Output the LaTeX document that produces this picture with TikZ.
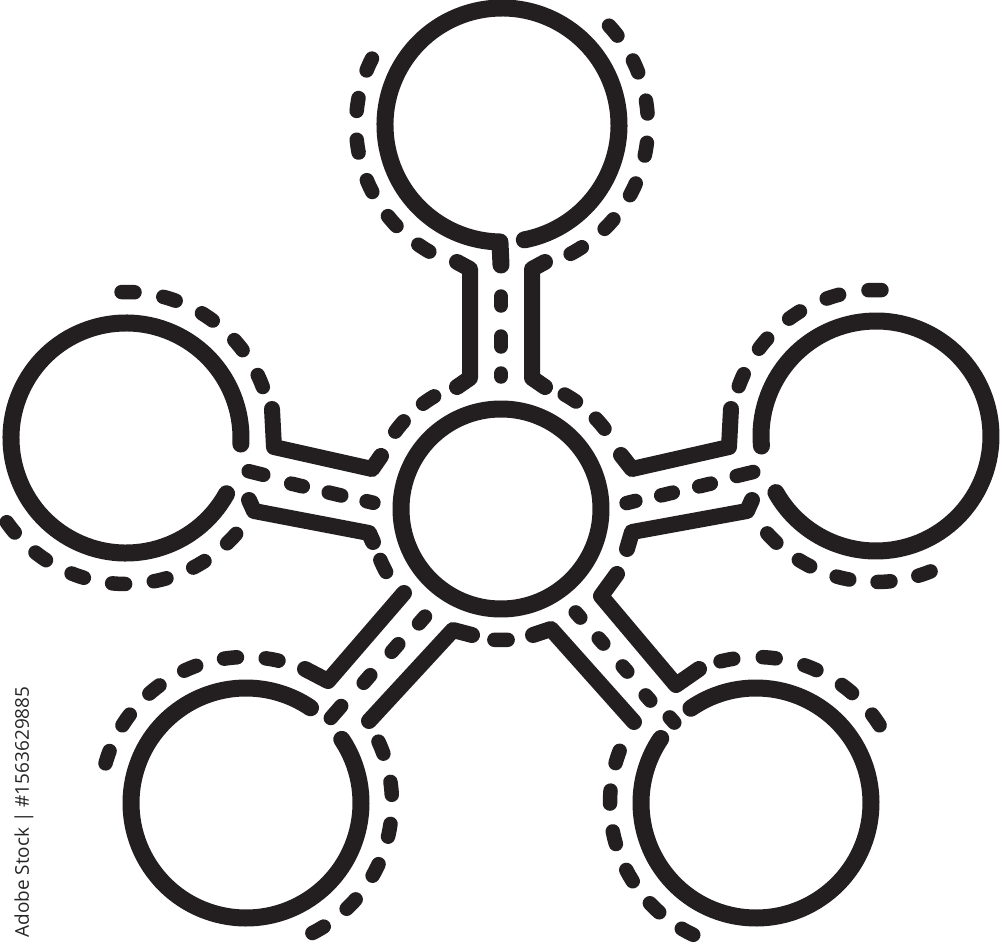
\documentclass[tikz,border=0pt]{standalone}
\usepackage{fontspec}
\newfontfamily\wmfont{Open Sans}
\definecolor{ink}{RGB}{35,31,32}
\tikzset{
  ringline/.style={draw=ink, line width=1.7mm, line cap=round, line join=round},
  stemline/.style={draw=ink, line width=1.6mm, line cap=round, line join=round},
  dsh/.style={draw=ink, line width=1.45mm, line cap=round},
}
% dashed ring: cx, cy, r, first dash angle, last dash angle, number of dashes
\newcommand\dring[6]{%
  \foreach \k in {1,...,#6}{%
    \pgfmathsetmacro\mc{#4+(\k-1)*(#5-#4)/(#6-1)}%
    \pgfmathsetmacro\dl{57.2958*6.5/#3}%
    \draw[dsh] (#1,#2) ++(\mc-\dl:#3) arc[start angle=\mc-\dl, end angle=\mc+\dl, radius=#3];
  }%
}
\newcommand\cdash[1]{%
  \draw[dsh] (cc) ++(#1-2.9:131) arc[start angle=#1-2.9, end angle=#1+2.9, radius=131];}
\begin{document}
\begin{tikzpicture}[x=0.1mm, y=-0.1mm]
\useasboundingbox (0,0) rectangle (1000,943);
\clip (0,0) rectangle (1000,943);
\fill[white] (0,0) rectangle (1000,943);

\coordinate (cc) at (501,509);
\coordinate (st) at (502,125);
\coordinate (sl) at (126,438);
\coordinate (sr) at (876,436);
\coordinate (sbl) at (246,803);
\coordinate (sbr) at (756,803);

% solid circles
\draw[ringline] (cc) circle[radius=100];
\draw[ringline] (st) ++(79:117) arc[start angle=79, end angle=-269, radius=117] -- (501,265);
\draw[ringline] (sl) ++(29:115) arc[start angle=29, end angle=363, radius=115];
\draw[ringline] (sr) ++(175:115) arc[start angle=175, end angle=510.5, radius=115];
\draw[ringline] (sbl) ++(-33.6:115) arc[start angle=-33.6, end angle=304.1, radius=115];
\draw[ringline] (sbr) ++(-124.5:115) arc[start angle=-124.5, end angle=214.1, radius=115];

% dashed rings around satellites
\dring{502}{125}{146}{204.5}{122.4}{6}
\dring{502}{125}{146}{-40.3}{59.4}{7}
\dring{126}{438}{146}{-89.2}{-23}{5}
\dring{126}{438}{146}{43.6}{142.2}{7}
\dring{876}{436}{146}{-90.4}{-157.5}{5}
\dring{876}{436}{146}{135.6}{70.6}{5}
\dring{246}{803}{146}{-79.7}{-161.7}{6}
\dring{246}{803}{146}{-22.3}{60.4}{6}
\dring{756}{803}{146}{-101.5}{-34.7}{5}
\dring{756}{803}{146}{198.4}{118}{6}

% dashed ring around centre
\cdash{-123.6}\cdash{-140.9}\cdash{154.2}\cdash{90}\cdash{-58}\cdash{-40.7}

% top stem
\draw[stemline] (457,262) -- (470,269) -- (470,378) -- (457,387);
\draw[stemline] (545,262) -- (532,269) -- (532,378) -- (545,387);
\draw[dsh] (501,296.5) -- (501,305.5);
\draw[dsh] (501,336.5) -- (501,346.5);
\draw[dsh] (501,373.5) -- (501,376.5);

% left stem
\draw[stemline] (272,409) -- (274,447) -- (372,469) -- (381,456);
\draw[stemline] (249,500) -- (254,511) -- (369,533) -- (373,542);
\draw[dsh] (248.7,471.2) -- (263.3,474.8);
\draw[dsh] (291.2,483.6) -- (302.8,486.4);
\draw[dsh] (328.7,492.5) -- (341.3,495.5);
\draw[dsh] (366.6,501.2) -- (373.4,502.8);

% right stem
\draw[stemline] (731,409) -- (729,447) -- (632,469) -- (621,455);
\draw[stemline] (752,500) -- (747,511) -- (632,532) -- (627,549);
\draw[dsh] (736.7,476) -- (753.3,472);
\draw[dsh] (699.2,486.4) -- (710.8,483.6);
\draw[dsh] (661.2,495.4) -- (672.8,492.6);
\draw[dsh] (626.6,503.1) -- (635.4,500.9);

% bottom-left stem
\draw[stemline] (404,593) -- (328,681) -- (305,669);
\draw[stemline] (472,635) -- (453,630) -- (369,721);
\draw[dsh] (425,616.6) -- (419,623.4);
\draw[dsh] (398.3,644.2) -- (391.7,651.8);
\draw[dsh] (370.3,675.2) -- (363.7,682.8);
\draw[dsh] (341.2,706) -- (330.8,718);

% bottom-right stem
\draw[stemline] (617,574) -- (601,596) -- (676,685) -- (699,669);
\draw[stemline] (533,635) -- (551,629) -- (634,722);
\draw[dsh] (575.7,612.4) -- (580.3,617.6);
\draw[dsh] (598.7,638.4) -- (603.3,643.6);
\draw[dsh] (622.7,666.4) -- (627.3,671.6);
\draw[dsh] (645.7,695.4) -- (650.3,700.6);
\draw[dsh] (669.7,717.4) -- (674.3,722.6);

% stock watermark caption
\node[rotate=90, text=black!85, font=\wmfont\fontsize{5.4}{6}\selectfont, inner sep=0pt] (wm) at (24,812) {Adobe Stock | \#1563629885};
\end{tikzpicture}
\end{document}
